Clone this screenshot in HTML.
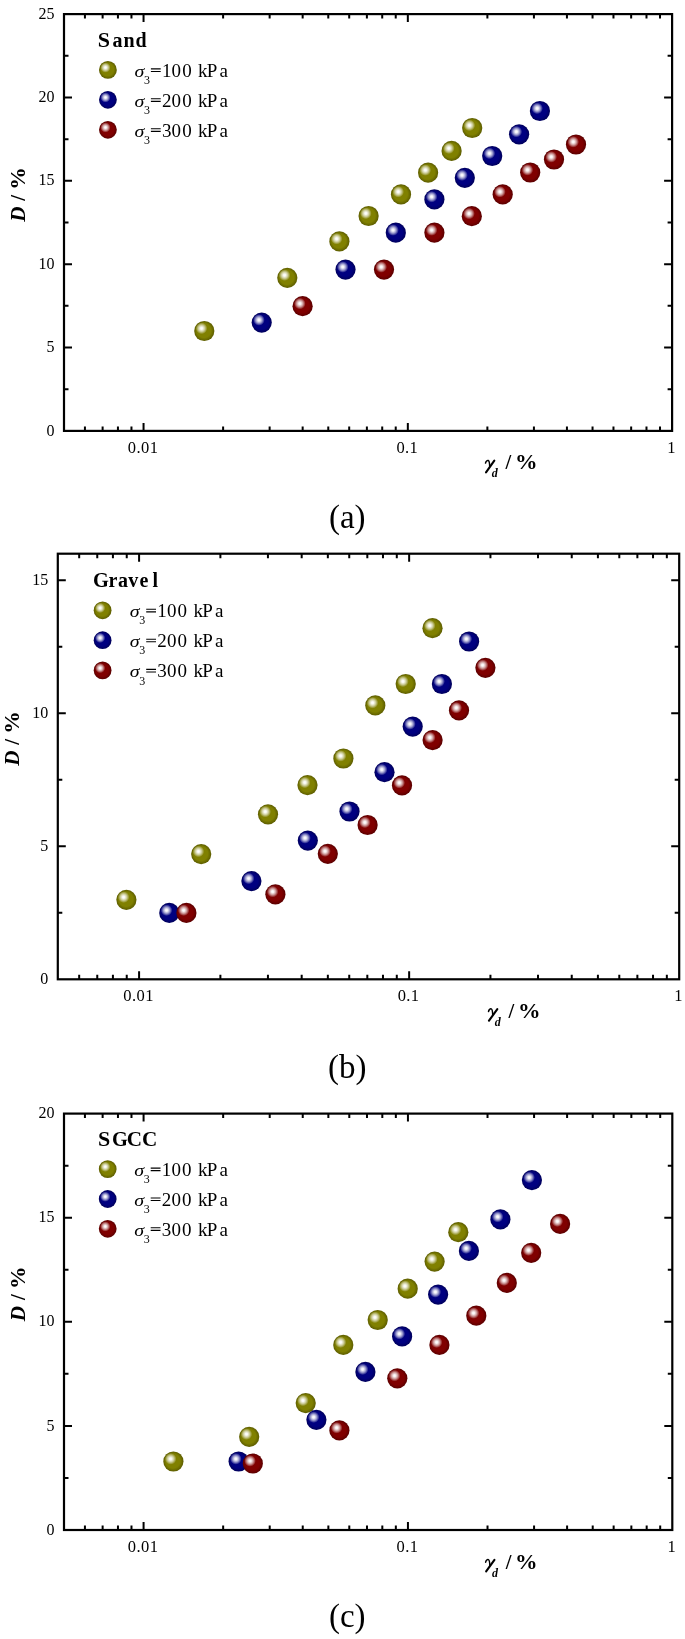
<!DOCTYPE html><html><head><meta charset="utf-8"><style>html,body{margin:0;padding:0;background:#fff;}body{width:685px;height:1639px;overflow:hidden;}svg{display:block;filter:blur(0.35px);}text{font-family:"Liberation Serif",serif;fill:#000;}.b{font-weight:bold}.i{font-style:italic}</style></head><body>
<svg width="685" height="1639" viewBox="0 0 685 1639">
<defs>
<radialGradient id="golive" cx="0.5" cy="0.5" r="0.5" fx="0.42" fy="0.42"><stop offset="0" stop-color="#808000"/><stop offset="0.7" stop-color="#808000"/><stop offset="1" stop-color="#5c5c00"/></radialGradient>
<radialGradient id="gblue" cx="0.5" cy="0.5" r="0.5" fx="0.42" fy="0.42"><stop offset="0" stop-color="#000080"/><stop offset="0.7" stop-color="#000080"/><stop offset="1" stop-color="#00005a"/></radialGradient>
<radialGradient id="gred" cx="0.5" cy="0.5" r="0.5" fx="0.42" fy="0.42"><stop offset="0" stop-color="#800000"/><stop offset="0.7" stop-color="#800000"/><stop offset="1" stop-color="#5a0000"/></radialGradient>
<radialGradient id="hl" cx="0.5" cy="0.5" r="0.5"><stop offset="0" stop-color="#fff" stop-opacity="1"/><stop offset="0.2" stop-color="#fff" stop-opacity="0.95"/><stop offset="0.55" stop-color="#fff" stop-opacity="0.6"/><stop offset="0.85" stop-color="#fff" stop-opacity="0.2"/><stop offset="1" stop-color="#fff" stop-opacity="0"/></radialGradient>
</defs>
<rect width="685" height="1639" fill="#fff"/>
<path d="M84.93 430.90v-4.5M84.93 14.10v4.5M102.62 430.90v-4.5M102.62 14.10v4.5M117.94 430.90v-4.5M117.94 14.10v4.5M131.46 430.90v-4.5M131.46 14.10v4.5M143.55 430.90v-8.0M143.55 14.10v8.0M223.11 430.90v-4.5M223.11 14.10v4.5M269.64 430.90v-4.5M269.64 14.10v4.5M302.66 430.90v-4.5M302.66 14.10v4.5M328.27 430.90v-4.5M328.27 14.10v4.5M349.20 430.90v-4.5M349.20 14.10v4.5M366.89 430.90v-4.5M366.89 14.10v4.5M382.22 430.90v-4.5M382.22 14.10v4.5M395.73 430.90v-4.5M395.73 14.10v4.5M407.83 430.90v-8.0M407.83 14.10v8.0M487.38 430.90v-4.5M487.38 14.10v4.5M533.92 430.90v-4.5M533.92 14.10v4.5M566.94 430.90v-4.5M566.94 14.10v4.5M592.55 430.90v-4.5M592.55 14.10v4.5M613.47 430.90v-4.5M613.47 14.10v4.5M631.16 430.90v-4.5M631.16 14.10v4.5M646.49 430.90v-4.5M646.49 14.10v4.5M660.01 430.90v-4.5M660.01 14.10v4.5M64.00 389.22h4.5M672.10 389.22h-4.5M64.00 347.54h8.0M672.10 347.54h-8.0M64.00 305.86h4.5M672.10 305.86h-4.5M64.00 264.18h8.0M672.10 264.18h-8.0M64.00 222.50h4.5M672.10 222.50h-4.5M64.00 180.82h8.0M672.10 180.82h-8.0M64.00 139.14h4.5M672.10 139.14h-4.5M64.00 97.46h8.0M672.10 97.46h-8.0M64.00 55.78h4.5M672.10 55.78h-4.5" stroke="#000" stroke-width="2.0" fill="none"/>
<rect x="64.00" y="14.10" width="608.10" height="416.80" stroke="#000" stroke-width="2.2" fill="none"/>
<text x="54.5" y="435.5" font-size="16" text-anchor="end">0</text>
<text x="54.5" y="352.1" font-size="16" text-anchor="end">5</text>
<text x="54.5" y="268.8" font-size="16" text-anchor="end">10</text>
<text x="54.5" y="185.4" font-size="16" text-anchor="end">15</text>
<text x="54.5" y="102.1" font-size="16" text-anchor="end">20</text>
<text x="54.5" y="18.7" font-size="16" text-anchor="end">25</text>
<text x="143.1" y="452.5" font-size="16.5" letter-spacing="0.4" text-anchor="middle">0.01</text>
<text x="407.3" y="452.5" font-size="16.5" letter-spacing="0.4" text-anchor="middle">0.1</text>
<text x="671.6" y="452.5" font-size="16.5" letter-spacing="0.4" text-anchor="middle">1</text>
<g transform="translate(484.81,469.40)" fill="none" stroke="#000" stroke-linecap="round"><path d="M0.7,-6.3C1.1,-8.2 2.4,-9.3 3.5,-8.9C4.5,-8.5 4.8,-6.2 4.9,-3.0" stroke-width="1.5"/><path d="M9.5,-8.7L1.2,2.9" stroke-width="2.1"/></g>
<text class="b i" x="491.81" y="477.40" font-size="12">d</text>
<text class="b" x="505.51" y="469.40" font-size="20.5">/</text>
<text class="b" transform="translate(514.91,469.40) scale(1.1,1)" font-size="20.5">%</text>
<text class="b i" transform="translate(25.10,221.87) rotate(-90) scale(1.03,1)" font-size="20.5">D</text>
<text class="b" transform="translate(25.10,200.67) rotate(-90)" font-size="20.5">/</text>
<text class="b" transform="translate(25.10,189.67) rotate(-90) scale(1.1,1)" font-size="20.5">%</text>
<text class="b" transform="translate(97.80,46.80) scale(1.1,1)" font-size="20">S</text>
<text class="b" transform="translate(112.40,46.80) scale(1.0,1)" font-size="20">a</text>
<text class="b" transform="translate(123.40,46.80) scale(1.0,1)" font-size="20">n</text>
<text class="b" transform="translate(135.40,46.80) scale(1.0,1)" font-size="20">d</text>
<circle cx="107.90" cy="69.90" r="8.9" fill="url(#golive)"/><circle cx="105.47" cy="67.56" r="5.12" fill="url(#hl)"/>
<text class="i" transform="translate(134.40,76.90) scale(1.05,0.87)" font-size="19">σ</text>
<text x="144.00" y="84.00" font-size="12">3</text>
<path d="M150.90 68.90h9.8M150.90 71.45h9.8" stroke="#000" stroke-width="1.1"/>
<text x="162.00 171.60 182.20 198.10 206.85 219.60" y="76.90" font-size="19">100kPa</text>
<circle cx="107.90" cy="99.80" r="8.9" fill="url(#gblue)"/><circle cx="105.47" cy="97.46" r="5.12" fill="url(#hl)"/>
<text class="i" transform="translate(134.40,106.80) scale(1.05,0.87)" font-size="19">σ</text>
<text x="144.00" y="113.90" font-size="12">3</text>
<path d="M150.90 98.80h9.8M150.90 101.35h9.8" stroke="#000" stroke-width="1.1"/>
<text x="162.00 171.60 182.20 198.10 206.85 219.60" y="106.80" font-size="19">200kPa</text>
<circle cx="107.90" cy="129.80" r="8.9" fill="url(#gred)"/><circle cx="105.47" cy="127.46" r="5.12" fill="url(#hl)"/>
<text class="i" transform="translate(134.40,136.80) scale(1.05,0.87)" font-size="19">σ</text>
<text x="144.00" y="143.90" font-size="12">3</text>
<path d="M150.90 128.80h9.8M150.90 131.35h9.8" stroke="#000" stroke-width="1.1"/>
<text x="162.00 171.60 182.20 198.10 206.85 219.60" y="136.80" font-size="19">300kPa</text>
<circle cx="204.30" cy="331.00" r="10.1" fill="url(#golive)"/><circle cx="201.55" cy="328.35" r="5.82" fill="url(#hl)"/>
<circle cx="287.30" cy="277.80" r="10.1" fill="url(#golive)"/><circle cx="284.55" cy="275.15" r="5.82" fill="url(#hl)"/>
<circle cx="339.40" cy="241.40" r="10.1" fill="url(#golive)"/><circle cx="336.65" cy="238.75" r="5.82" fill="url(#hl)"/>
<circle cx="368.60" cy="216.00" r="10.1" fill="url(#golive)"/><circle cx="365.85" cy="213.35" r="5.82" fill="url(#hl)"/>
<circle cx="401.00" cy="194.40" r="10.1" fill="url(#golive)"/><circle cx="398.25" cy="191.75" r="5.82" fill="url(#hl)"/>
<circle cx="428.10" cy="172.70" r="10.1" fill="url(#golive)"/><circle cx="425.35" cy="170.05" r="5.82" fill="url(#hl)"/>
<circle cx="451.60" cy="150.90" r="10.1" fill="url(#golive)"/><circle cx="448.85" cy="148.25" r="5.82" fill="url(#hl)"/>
<circle cx="472.20" cy="128.00" r="10.1" fill="url(#golive)"/><circle cx="469.45" cy="125.35" r="5.82" fill="url(#hl)"/>
<circle cx="261.70" cy="322.60" r="10.1" fill="url(#gblue)"/><circle cx="258.95" cy="319.95" r="5.82" fill="url(#hl)"/>
<circle cx="345.50" cy="269.60" r="10.1" fill="url(#gblue)"/><circle cx="342.75" cy="266.95" r="5.82" fill="url(#hl)"/>
<circle cx="395.80" cy="232.70" r="10.1" fill="url(#gblue)"/><circle cx="393.05" cy="230.05" r="5.82" fill="url(#hl)"/>
<circle cx="434.40" cy="199.40" r="10.1" fill="url(#gblue)"/><circle cx="431.65" cy="196.75" r="5.82" fill="url(#hl)"/>
<circle cx="464.80" cy="177.80" r="10.1" fill="url(#gblue)"/><circle cx="462.05" cy="175.15" r="5.82" fill="url(#hl)"/>
<circle cx="492.20" cy="156.00" r="10.1" fill="url(#gblue)"/><circle cx="489.45" cy="153.35" r="5.82" fill="url(#hl)"/>
<circle cx="519.10" cy="134.30" r="10.1" fill="url(#gblue)"/><circle cx="516.35" cy="131.65" r="5.82" fill="url(#hl)"/>
<circle cx="539.90" cy="111.00" r="10.1" fill="url(#gblue)"/><circle cx="537.15" cy="108.35" r="5.82" fill="url(#hl)"/>
<circle cx="302.60" cy="306.20" r="10.1" fill="url(#gred)"/><circle cx="299.85" cy="303.55" r="5.82" fill="url(#hl)"/>
<circle cx="384.00" cy="269.60" r="10.1" fill="url(#gred)"/><circle cx="381.25" cy="266.95" r="5.82" fill="url(#hl)"/>
<circle cx="434.40" cy="232.70" r="10.1" fill="url(#gred)"/><circle cx="431.65" cy="230.05" r="5.82" fill="url(#hl)"/>
<circle cx="471.80" cy="216.20" r="10.1" fill="url(#gred)"/><circle cx="469.05" cy="213.55" r="5.82" fill="url(#hl)"/>
<circle cx="502.70" cy="194.40" r="10.1" fill="url(#gred)"/><circle cx="499.95" cy="191.75" r="5.82" fill="url(#hl)"/>
<circle cx="530.20" cy="172.50" r="10.1" fill="url(#gred)"/><circle cx="527.45" cy="169.85" r="5.82" fill="url(#hl)"/>
<circle cx="554.00" cy="159.50" r="10.1" fill="url(#gred)"/><circle cx="551.25" cy="156.85" r="5.82" fill="url(#hl)"/>
<circle cx="576.00" cy="144.50" r="10.1" fill="url(#gred)"/><circle cx="573.25" cy="141.85" r="5.82" fill="url(#hl)"/>
<text x="347.3" y="527.9" font-size="33" text-anchor="middle">(a)</text>
<path d="M79.18 979.30v-4.5M79.18 553.70v4.5M97.26 979.30v-4.5M97.26 553.70v4.5M112.92 979.30v-4.5M112.92 553.70v4.5M126.74 979.30v-4.5M126.74 553.70v4.5M139.09 979.30v-8.0M139.09 553.70v8.0M220.39 979.30v-4.5M220.39 553.70v4.5M267.94 979.30v-4.5M267.94 553.70v4.5M301.68 979.30v-4.5M301.68 553.70v4.5M327.85 979.30v-4.5M327.85 553.70v4.5M349.24 979.30v-4.5M349.24 553.70v4.5M367.32 979.30v-4.5M367.32 553.70v4.5M382.98 979.30v-4.5M382.98 553.70v4.5M396.79 979.30v-4.5M396.79 553.70v4.5M409.15 979.30v-8.0M409.15 553.70v8.0M490.44 979.30v-4.5M490.44 553.70v4.5M538.00 979.30v-4.5M538.00 553.70v4.5M571.74 979.30v-4.5M571.74 553.70v4.5M597.91 979.30v-4.5M597.91 553.70v4.5M619.29 979.30v-4.5M619.29 553.70v4.5M637.37 979.30v-4.5M637.37 553.70v4.5M653.03 979.30v-4.5M653.03 553.70v4.5M666.84 979.30v-4.5M666.84 553.70v4.5M57.80 912.80h4.5M679.20 912.80h-4.5M57.80 846.30h8.0M679.20 846.30h-8.0M57.80 779.80h4.5M679.20 779.80h-4.5M57.80 713.30h8.0M679.20 713.30h-8.0M57.80 646.80h4.5M679.20 646.80h-4.5M57.80 580.30h8.0M679.20 580.30h-8.0" stroke="#000" stroke-width="2.0" fill="none"/>
<rect x="57.80" y="553.70" width="621.40" height="425.60" stroke="#000" stroke-width="2.2" fill="none"/>
<text x="48.3" y="983.9" font-size="16" text-anchor="end">0</text>
<text x="48.3" y="850.9" font-size="16" text-anchor="end">5</text>
<text x="48.3" y="717.9" font-size="16" text-anchor="end">10</text>
<text x="48.3" y="584.9" font-size="16" text-anchor="end">15</text>
<text x="138.6" y="1000.9" font-size="16.5" letter-spacing="0.4" text-anchor="middle">0.01</text>
<text x="408.6" y="1000.9" font-size="16.5" letter-spacing="0.4" text-anchor="middle">0.1</text>
<text x="678.7" y="1000.9" font-size="16.5" letter-spacing="0.4" text-anchor="middle">1</text>
<g transform="translate(487.81,1017.80)" fill="none" stroke="#000" stroke-linecap="round"><path d="M0.7,-6.3C1.1,-8.2 2.4,-9.3 3.5,-8.9C4.5,-8.5 4.8,-6.2 4.9,-3.0" stroke-width="1.5"/><path d="M9.5,-8.7L1.2,2.9" stroke-width="2.1"/></g>
<text class="b i" x="494.81" y="1025.80" font-size="12">d</text>
<text class="b" x="508.51" y="1017.80" font-size="20.5">/</text>
<text class="b" transform="translate(517.91,1017.80) scale(1.1,1)" font-size="20.5">%</text>
<text class="b i" transform="translate(18.90,765.86) rotate(-90) scale(1.03,1)" font-size="20.5">D</text>
<text class="b" transform="translate(18.90,744.66) rotate(-90)" font-size="20.5">/</text>
<text class="b" transform="translate(18.90,733.66) rotate(-90) scale(1.1,1)" font-size="20.5">%</text>
<text class="b" transform="translate(93.10,586.90) scale(1.02,1)" font-size="20">G</text>
<text class="b" transform="translate(108.40,586.90) scale(1.0,1)" font-size="20">r</text>
<text class="b" transform="translate(118.00,586.90) scale(1.0,1)" font-size="20">a</text>
<text class="b" transform="translate(128.30,586.90) scale(1.0,1)" font-size="20">v</text>
<text class="b" transform="translate(139.40,586.90) scale(1.0,1)" font-size="20">e</text>
<text class="b" transform="translate(152.40,586.90) scale(1.0,1)" font-size="20">l</text>
<circle cx="102.60" cy="610.30" r="8.9" fill="url(#golive)"/><circle cx="100.17" cy="607.96" r="5.12" fill="url(#hl)"/>
<text class="i" transform="translate(129.70,617.30) scale(1.05,0.87)" font-size="19">σ</text>
<text x="139.30" y="624.40" font-size="12">3</text>
<path d="M146.20 609.30h9.8M146.20 611.85h9.8" stroke="#000" stroke-width="1.1"/>
<text x="157.30 166.90 177.50 193.40 202.15 214.90" y="617.30" font-size="19">100kPa</text>
<circle cx="102.60" cy="640.20" r="8.9" fill="url(#gblue)"/><circle cx="100.17" cy="637.86" r="5.12" fill="url(#hl)"/>
<text class="i" transform="translate(129.70,647.20) scale(1.05,0.87)" font-size="19">σ</text>
<text x="139.30" y="654.30" font-size="12">3</text>
<path d="M146.20 639.20h9.8M146.20 641.75h9.8" stroke="#000" stroke-width="1.1"/>
<text x="157.30 166.90 177.50 193.40 202.15 214.90" y="647.20" font-size="19">200kPa</text>
<circle cx="102.60" cy="670.40" r="8.9" fill="url(#gred)"/><circle cx="100.17" cy="668.06" r="5.12" fill="url(#hl)"/>
<text class="i" transform="translate(129.70,677.40) scale(1.05,0.87)" font-size="19">σ</text>
<text x="139.30" y="684.50" font-size="12">3</text>
<path d="M146.20 669.40h9.8M146.20 671.95h9.8" stroke="#000" stroke-width="1.1"/>
<text x="157.30 166.90 177.50 193.40 202.15 214.90" y="677.40" font-size="19">300kPa</text>
<circle cx="126.40" cy="899.80" r="10.1" fill="url(#golive)"/><circle cx="123.65" cy="897.15" r="5.82" fill="url(#hl)"/>
<circle cx="201.20" cy="854.10" r="10.1" fill="url(#golive)"/><circle cx="198.45" cy="851.45" r="5.82" fill="url(#hl)"/>
<circle cx="268.00" cy="814.30" r="10.1" fill="url(#golive)"/><circle cx="265.25" cy="811.65" r="5.82" fill="url(#hl)"/>
<circle cx="307.50" cy="785.10" r="10.1" fill="url(#golive)"/><circle cx="304.75" cy="782.45" r="5.82" fill="url(#hl)"/>
<circle cx="343.40" cy="758.50" r="10.1" fill="url(#golive)"/><circle cx="340.65" cy="755.85" r="5.82" fill="url(#hl)"/>
<circle cx="375.30" cy="705.40" r="10.1" fill="url(#golive)"/><circle cx="372.55" cy="702.75" r="5.82" fill="url(#hl)"/>
<circle cx="405.70" cy="684.00" r="10.1" fill="url(#golive)"/><circle cx="402.95" cy="681.35" r="5.82" fill="url(#hl)"/>
<circle cx="432.50" cy="628.20" r="10.1" fill="url(#golive)"/><circle cx="429.75" cy="625.55" r="5.82" fill="url(#hl)"/>
<circle cx="169.30" cy="912.90" r="10.1" fill="url(#gblue)"/><circle cx="166.55" cy="910.25" r="5.82" fill="url(#hl)"/>
<circle cx="251.40" cy="881.10" r="10.1" fill="url(#gblue)"/><circle cx="248.65" cy="878.45" r="5.82" fill="url(#hl)"/>
<circle cx="307.80" cy="840.60" r="10.1" fill="url(#gblue)"/><circle cx="305.05" cy="837.95" r="5.82" fill="url(#hl)"/>
<circle cx="349.50" cy="811.50" r="10.1" fill="url(#gblue)"/><circle cx="346.75" cy="808.85" r="5.82" fill="url(#hl)"/>
<circle cx="384.50" cy="772.20" r="10.1" fill="url(#gblue)"/><circle cx="381.75" cy="769.55" r="5.82" fill="url(#hl)"/>
<circle cx="412.70" cy="726.60" r="10.1" fill="url(#gblue)"/><circle cx="409.95" cy="723.95" r="5.82" fill="url(#hl)"/>
<circle cx="441.90" cy="684.00" r="10.1" fill="url(#gblue)"/><circle cx="439.15" cy="681.35" r="5.82" fill="url(#hl)"/>
<circle cx="469.10" cy="641.50" r="10.1" fill="url(#gblue)"/><circle cx="466.35" cy="638.85" r="5.82" fill="url(#hl)"/>
<circle cx="186.40" cy="912.90" r="10.1" fill="url(#gred)"/><circle cx="183.65" cy="910.25" r="5.82" fill="url(#hl)"/>
<circle cx="275.40" cy="894.30" r="10.1" fill="url(#gred)"/><circle cx="272.65" cy="891.65" r="5.82" fill="url(#hl)"/>
<circle cx="327.80" cy="853.80" r="10.1" fill="url(#gred)"/><circle cx="325.05" cy="851.15" r="5.82" fill="url(#hl)"/>
<circle cx="367.60" cy="825.00" r="10.1" fill="url(#gred)"/><circle cx="364.85" cy="822.35" r="5.82" fill="url(#hl)"/>
<circle cx="402.00" cy="785.40" r="10.1" fill="url(#gred)"/><circle cx="399.25" cy="782.75" r="5.82" fill="url(#hl)"/>
<circle cx="432.60" cy="740.10" r="10.1" fill="url(#gred)"/><circle cx="429.85" cy="737.45" r="5.82" fill="url(#hl)"/>
<circle cx="459.00" cy="710.40" r="10.1" fill="url(#gred)"/><circle cx="456.25" cy="707.75" r="5.82" fill="url(#hl)"/>
<circle cx="485.40" cy="667.80" r="10.1" fill="url(#gred)"/><circle cx="482.65" cy="665.15" r="5.82" fill="url(#hl)"/>
<text x="347.3" y="1078.0" font-size="33" text-anchor="middle">(b)</text>
<path d="M84.93 1530.00v-4.5M84.93 1113.60v4.5M102.63 1530.00v-4.5M102.63 1113.60v4.5M117.96 1530.00v-4.5M117.96 1113.60v4.5M131.48 1530.00v-4.5M131.48 1113.60v4.5M143.58 1530.00v-8.0M143.58 1113.60v8.0M223.16 1530.00v-4.5M223.16 1113.60v4.5M269.71 1530.00v-4.5M269.71 1113.60v4.5M302.74 1530.00v-4.5M302.74 1113.60v4.5M328.36 1530.00v-4.5M328.36 1113.60v4.5M349.29 1530.00v-4.5M349.29 1113.60v4.5M366.99 1530.00v-4.5M366.99 1113.60v4.5M382.32 1530.00v-4.5M382.32 1113.60v4.5M395.84 1530.00v-4.5M395.84 1113.60v4.5M407.94 1530.00v-8.0M407.94 1113.60v8.0M487.52 1530.00v-4.5M487.52 1113.60v4.5M534.07 1530.00v-4.5M534.07 1113.60v4.5M567.10 1530.00v-4.5M567.10 1113.60v4.5M592.72 1530.00v-4.5M592.72 1113.60v4.5M613.65 1530.00v-4.5M613.65 1113.60v4.5M631.35 1530.00v-4.5M631.35 1113.60v4.5M646.68 1530.00v-4.5M646.68 1113.60v4.5M660.20 1530.00v-4.5M660.20 1113.60v4.5M64.00 1477.95h4.5M672.30 1477.95h-4.5M64.00 1425.90h8.0M672.30 1425.90h-8.0M64.00 1373.85h4.5M672.30 1373.85h-4.5M64.00 1321.80h8.0M672.30 1321.80h-8.0M64.00 1269.75h4.5M672.30 1269.75h-4.5M64.00 1217.70h8.0M672.30 1217.70h-8.0M64.00 1165.65h4.5M672.30 1165.65h-4.5" stroke="#000" stroke-width="2.0" fill="none"/>
<rect x="64.00" y="1113.60" width="608.30" height="416.40" stroke="#000" stroke-width="2.2" fill="none"/>
<text x="54.5" y="1534.6" font-size="16" text-anchor="end">0</text>
<text x="54.5" y="1430.5" font-size="16" text-anchor="end">5</text>
<text x="54.5" y="1326.4" font-size="16" text-anchor="end">10</text>
<text x="54.5" y="1222.3" font-size="16" text-anchor="end">15</text>
<text x="54.5" y="1118.2" font-size="16" text-anchor="end">20</text>
<text x="143.1" y="1551.6" font-size="16.5" letter-spacing="0.4" text-anchor="middle">0.01</text>
<text x="407.4" y="1551.6" font-size="16.5" letter-spacing="0.4" text-anchor="middle">0.1</text>
<text x="671.8" y="1551.6" font-size="16.5" letter-spacing="0.4" text-anchor="middle">1</text>
<g transform="translate(484.94,1568.50)" fill="none" stroke="#000" stroke-linecap="round"><path d="M0.7,-6.3C1.1,-8.2 2.4,-9.3 3.5,-8.9C4.5,-8.5 4.8,-6.2 4.9,-3.0" stroke-width="1.5"/><path d="M9.5,-8.7L1.2,2.9" stroke-width="2.1"/></g>
<text class="b i" x="491.94" y="1576.50" font-size="12">d</text>
<text class="b" x="505.64" y="1568.50" font-size="20.5">/</text>
<text class="b" transform="translate(515.04,1568.50) scale(1.1,1)" font-size="20.5">%</text>
<text class="b i" transform="translate(25.10,1321.18) rotate(-90) scale(1.03,1)" font-size="20.5">D</text>
<text class="b" transform="translate(25.10,1299.98) rotate(-90)" font-size="20.5">/</text>
<text class="b" transform="translate(25.10,1288.98) rotate(-90) scale(1.1,1)" font-size="20.5">%</text>
<text class="b" transform="translate(98.00,1146.10) scale(1.1,1)" font-size="20">S</text>
<text class="b" transform="translate(111.90,1146.10) scale(1.02,1)" font-size="20">G</text>
<text class="b" transform="translate(126.70,1146.10) scale(1.06,1)" font-size="20">C</text>
<text class="b" transform="translate(142.00,1146.10) scale(1.06,1)" font-size="20">C</text>
<circle cx="107.70" cy="1169.10" r="8.9" fill="url(#golive)"/><circle cx="105.27" cy="1166.76" r="5.12" fill="url(#hl)"/>
<text class="i" transform="translate(134.20,1176.10) scale(1.05,0.87)" font-size="19">σ</text>
<text x="143.80" y="1183.20" font-size="12">3</text>
<path d="M150.70 1168.10h9.8M150.70 1170.65h9.8" stroke="#000" stroke-width="1.1"/>
<text x="161.80 171.40 182.00 197.90 206.65 219.40" y="1176.10" font-size="19">100kPa</text>
<circle cx="107.70" cy="1199.00" r="8.9" fill="url(#gblue)"/><circle cx="105.27" cy="1196.66" r="5.12" fill="url(#hl)"/>
<text class="i" transform="translate(134.20,1206.00) scale(1.05,0.87)" font-size="19">σ</text>
<text x="143.80" y="1213.10" font-size="12">3</text>
<path d="M150.70 1198.00h9.8M150.70 1200.55h9.8" stroke="#000" stroke-width="1.1"/>
<text x="161.80 171.40 182.00 197.90 206.65 219.40" y="1206.00" font-size="19">200kPa</text>
<circle cx="107.70" cy="1228.80" r="8.9" fill="url(#gred)"/><circle cx="105.27" cy="1226.46" r="5.12" fill="url(#hl)"/>
<text class="i" transform="translate(134.20,1235.80) scale(1.05,0.87)" font-size="19">σ</text>
<text x="143.80" y="1242.90" font-size="12">3</text>
<path d="M150.70 1227.80h9.8M150.70 1230.35h9.8" stroke="#000" stroke-width="1.1"/>
<text x="161.80 171.40 182.00 197.90 206.65 219.40" y="1235.80" font-size="19">300kPa</text>
<circle cx="173.40" cy="1461.50" r="10.1" fill="url(#golive)"/><circle cx="170.65" cy="1458.85" r="5.82" fill="url(#hl)"/>
<circle cx="249.20" cy="1436.80" r="10.1" fill="url(#golive)"/><circle cx="246.45" cy="1434.15" r="5.82" fill="url(#hl)"/>
<circle cx="305.70" cy="1403.10" r="10.1" fill="url(#golive)"/><circle cx="302.95" cy="1400.45" r="5.82" fill="url(#hl)"/>
<circle cx="343.30" cy="1344.90" r="10.1" fill="url(#golive)"/><circle cx="340.55" cy="1342.25" r="5.82" fill="url(#hl)"/>
<circle cx="377.70" cy="1320.00" r="10.1" fill="url(#golive)"/><circle cx="374.95" cy="1317.35" r="5.82" fill="url(#hl)"/>
<circle cx="407.70" cy="1288.70" r="10.1" fill="url(#golive)"/><circle cx="404.95" cy="1286.05" r="5.82" fill="url(#hl)"/>
<circle cx="434.60" cy="1261.60" r="10.1" fill="url(#golive)"/><circle cx="431.85" cy="1258.95" r="5.82" fill="url(#hl)"/>
<circle cx="458.30" cy="1232.20" r="10.1" fill="url(#golive)"/><circle cx="455.55" cy="1229.55" r="5.82" fill="url(#hl)"/>
<circle cx="238.60" cy="1461.50" r="10.1" fill="url(#gblue)"/><circle cx="235.85" cy="1458.85" r="5.82" fill="url(#hl)"/>
<circle cx="316.40" cy="1419.80" r="10.1" fill="url(#gblue)"/><circle cx="313.65" cy="1417.15" r="5.82" fill="url(#hl)"/>
<circle cx="365.40" cy="1371.90" r="10.1" fill="url(#gblue)"/><circle cx="362.65" cy="1369.25" r="5.82" fill="url(#hl)"/>
<circle cx="402.10" cy="1336.40" r="10.1" fill="url(#gblue)"/><circle cx="399.35" cy="1333.75" r="5.82" fill="url(#hl)"/>
<circle cx="438.10" cy="1294.60" r="10.1" fill="url(#gblue)"/><circle cx="435.35" cy="1291.95" r="5.82" fill="url(#hl)"/>
<circle cx="468.90" cy="1250.90" r="10.1" fill="url(#gblue)"/><circle cx="466.15" cy="1248.25" r="5.82" fill="url(#hl)"/>
<circle cx="500.40" cy="1219.40" r="10.1" fill="url(#gblue)"/><circle cx="497.65" cy="1216.75" r="5.82" fill="url(#hl)"/>
<circle cx="531.90" cy="1180.10" r="10.1" fill="url(#gblue)"/><circle cx="529.15" cy="1177.45" r="5.82" fill="url(#hl)"/>
<circle cx="252.80" cy="1463.50" r="10.1" fill="url(#gred)"/><circle cx="250.05" cy="1460.85" r="5.82" fill="url(#hl)"/>
<circle cx="339.40" cy="1430.40" r="10.1" fill="url(#gred)"/><circle cx="336.65" cy="1427.75" r="5.82" fill="url(#hl)"/>
<circle cx="397.30" cy="1378.30" r="10.1" fill="url(#gred)"/><circle cx="394.55" cy="1375.65" r="5.82" fill="url(#hl)"/>
<circle cx="439.40" cy="1344.90" r="10.1" fill="url(#gred)"/><circle cx="436.65" cy="1342.25" r="5.82" fill="url(#hl)"/>
<circle cx="476.30" cy="1315.70" r="10.1" fill="url(#gred)"/><circle cx="473.55" cy="1313.05" r="5.82" fill="url(#hl)"/>
<circle cx="506.80" cy="1282.90" r="10.1" fill="url(#gred)"/><circle cx="504.05" cy="1280.25" r="5.82" fill="url(#hl)"/>
<circle cx="531.20" cy="1252.80" r="10.1" fill="url(#gred)"/><circle cx="528.45" cy="1250.15" r="5.82" fill="url(#hl)"/>
<circle cx="560.10" cy="1223.90" r="10.1" fill="url(#gred)"/><circle cx="557.35" cy="1221.25" r="5.82" fill="url(#hl)"/>
<text x="347.3" y="1626.7" font-size="33" text-anchor="middle">(c)</text>
</svg></body></html>
